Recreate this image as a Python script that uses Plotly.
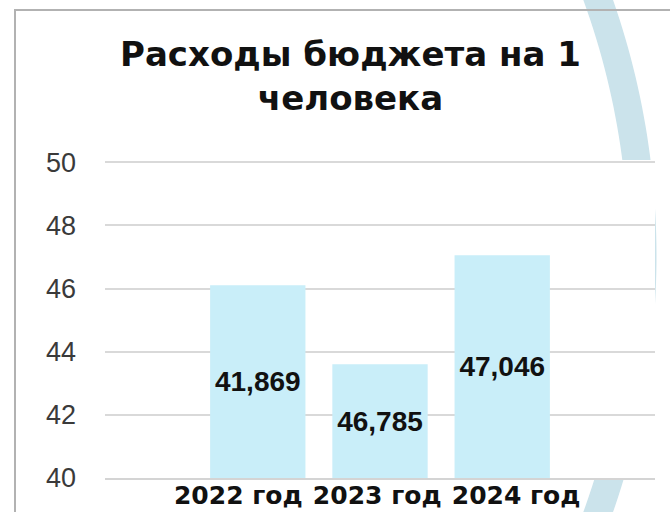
import numpy as np
import plotly.graph_objects as go

# ---- data ----
title_text = "Расходы бюджета на 1<br>человека"
categories = ["2022 год", "2023 год", "2024 год"]
bar_heights = [46.1, 43.6, 47.05]
bar_labels = ["41,869", "46,785", "47,046"]
y_ticks = [40, 42, 44, 46, 48, 50]
y_min, y_max = 40, 50

# ---- layout geometry ----
W, H = 670, 512
L, R, T, B = 105, 15, 160, 34
pw = W - L - R
ph = H - T - B


def px2paper(x, y):
    return (x - L) / pw, (H - B - y) / ph


idx = list(range(len(categories)))

fig = go.Figure()
fig.add_trace(go.Bar(
    x=idx,
    y=[h - y_min for h in bar_heights],
    base=y_min,
    width=0.78,
    marker=dict(color="#c9eef9", line_width=0),
    text=bar_labels,
    textposition="inside",
    insidetextanchor="middle",
    constraintext="none",
    textfont=dict(family="Liberation Sans", size=28, color="#111111", weight="bold"),
    hoverinfo="skip",
    showlegend=False,
))
# carrier trace so the category label axis is drawn
fig.add_trace(go.Scatter(
    x=idx, y=[y_min] * len(idx), xaxis="x2", yaxis="y",
    mode="markers", marker=dict(opacity=0, size=1),
    hoverinfo="skip", showlegend=False,
))

# decorative arc (background slide element)
cx, cy, r1, r2 = -119.5, 256.0, 748.0, 776.0
ys = np.linspace(-30, 545, 60)
outer = [(cx + np.sqrt(r2 ** 2 - (y - cy) ** 2), y) for y in ys]
inner = [(cx + np.sqrt(r1 ** 2 - (y - cy) ** 2), y) for y in ys[::-1]]
pts = [px2paper(x, y) for x, y in outer + inner]
arc_path = "M " + " L ".join(f"{a:.4f},{b:.4f}" for a, b in pts) + " Z"

shapes = [
    dict(type="path", xref="paper", yref="paper", path=arc_path,
         fillcolor="#cbe3eb", line=dict(width=0), layer="below"),
    dict(type="rect", xref="paper", yref="paper", x0=0, x1=1, y0=0, y1=1,
         fillcolor="white", line=dict(width=0), layer="below"),
]
# frame lines
x0p, y0p = px2paper(14, 10)
x1p, _ = px2paper(675, 10)
_, y1p = px2paper(15, 520)
lx, _ = px2paper(15, 10)
shapes.append(dict(type="line", xref="paper", yref="paper", x0=x0p, x1=x1p, y0=y0p, y1=y0p,
                   line=dict(color="#b2b2b2", width=2), layer="below"))
shapes.append(dict(type="line", xref="paper", yref="paper", x0=lx, x1=lx, y0=y0p, y1=y1p,
                   line=dict(color="#b2b2b2", width=2), layer="below"))

tx, ty = px2paper(350, 32)

fig.update_layout(
    width=W, height=H, autosize=False,
    margin=dict(l=L, r=R, t=T, b=B, pad=0, autoexpand=False),
    paper_bgcolor="white", plot_bgcolor="white",
    shapes=shapes,
    annotations=[dict(
        text=title_text, xref="paper", yref="paper", x=tx, y=ty,
        xanchor="center", yanchor="top", showarrow=False, align="center",
        font=dict(family="DejaVu Sans", size=34, color="#111111", weight="bold"),
    )],
    xaxis=dict(range=[-1.25, 3.25], showticklabels=False, showgrid=False,
               zeroline=False, showline=True, linecolor="#d4d4d4", linewidth=2,
               ticks="", automargin=False),
    xaxis2=dict(overlaying="x", anchor="y", side="bottom", range=[-0.96, 3.0],
                tickmode="array", tickvals=idx, ticktext=categories,
                showgrid=False, zeroline=False, showline=False, ticks="",
                automargin=False,
                tickfont=dict(family="DejaVu Sans", size=25, color="#111111", weight="bold")),
    yaxis=dict(range=[y_min, y_max + 0.07], tickmode="array", tickvals=y_ticks,
               showgrid=True, gridcolor="#d9d9d9", gridwidth=2, zeroline=False,
               showline=False, ticks="", ticklabelstandoff=28, automargin=False,
               tickfont=dict(family="Liberation Sans", size=27, color="#3a3a3a")),
    bargap=0.2,
)

fig.write_html("out.html", config={"displayModeBar": False},
               post_script="document.body.style.margin='0';")
